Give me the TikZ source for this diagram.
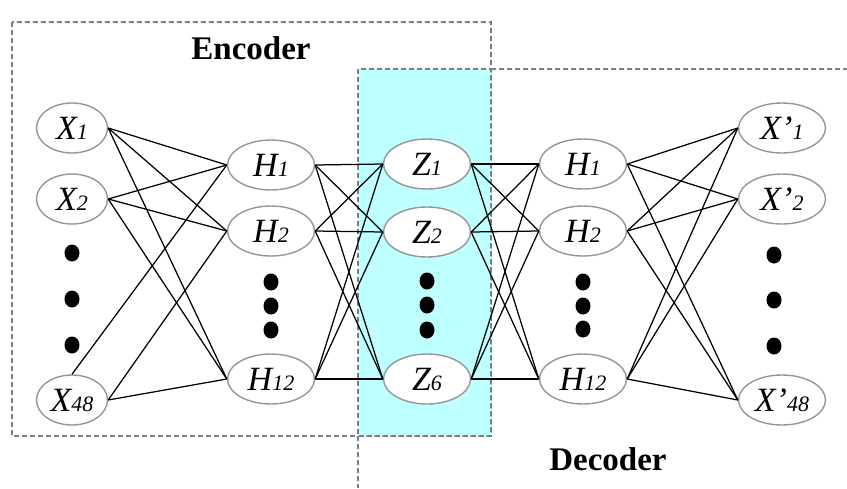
\documentclass[tikz,border=0pt]{standalone}
\usepackage{fontspec}
\setmainfont{Liberation Serif}
\usetikzlibrary{shapes.geometric}
\definecolor{boxgray}{RGB}{125,125,125}
\definecolor{ringgray}{RGB}{150,150,150}
\definecolor{latentcyan}{RGB}{190,255,255}
% unit label: italic letter with a smaller italic index on the baseline
\newcommand{\unitlbl}[2]{{\fontsize{34}{34}\selectfont\itshape #1}{\fontsize{22}{22}\selectfont\itshape #2}}

\begin{document}
\begin{tikzpicture}[x=1pt,y=-1pt,
  unit/.style={ellipse, draw=ringgray, line width=1.4pt, fill=white, minimum height=50pt, inner sep=0pt},
  inunit/.style={unit, minimum width=71pt},
  wideunit/.style={unit, minimum width=87pt},
  region/.style={draw=boxgray, line width=1.1pt, dash pattern=on 5pt off 3pt},
  link/.style={black, line width=1.25pt},
  ellipsis/.style={ellipse, fill=black, minimum width=15pt, minimum height=17pt, inner sep=0pt},
  title/.style={font=\fontsize{33}{33}\selectfont\bfseries, inner sep=0pt}
]
\useasboundingbox (0,0) rectangle (847,488);

% encoder region, latent band and decoder region
\draw[region] (12,22) rectangle (491,436);
\fill[latentcyan] (358,69) rectangle (491,436);
\draw[region] (358,69) rectangle (491,436);
\coordinate (dtopl) at (491,69);
\coordinate (dtopr) at (847,69);
\coordinate (dlefttop) at (358,436);
\coordinate (dleftbot) at (358,488);
\draw[region] (dtopl) -- (dtopr);
\draw[region] (dlefttop) -- (dleftbot);

\node[title] (enc) at (251,48) {Encoder};
\node[title] (dec) at (608,459) {Decoder};

% input layer
\node[inunit] (x1)  at (72,128) {\unitlbl{X}{1}};
\node[inunit] (x2)  at (72,199) {\unitlbl{X}{2}};
\node[inunit] (x48) at (72,400) {\unitlbl{X}{48}};
\node[ellipsis] (xd1) at (72,253) {};
\node[ellipsis] (xd2) at (72,299) {};
\node[ellipsis] (xd3) at (72,345) {};

% encoder hidden layer
\node[wideunit] (h1)  at (271,165) {\unitlbl{H}{1}};
\node[wideunit] (h2)  at (271,231) {\unitlbl{H}{2}};
\node[wideunit] (h12) at (271,379) {\unitlbl{H}{12}};
\node[ellipsis] (hd1) at (271,282) {};
\node[ellipsis] (hd2) at (271,306) {};
\node[ellipsis] (hd3) at (271,330) {};

% latent layer
\node[wideunit] (z1) at (427,164) {\unitlbl{Z}{1}};
\node[wideunit] (z2) at (427,232) {\unitlbl{Z}{2}};
\node[wideunit] (z6) at (427,379) {\unitlbl{Z}{6}};
\node[ellipsis] (zd1) at (427,281) {};
\node[ellipsis] (zd2) at (427,305) {};
\node[ellipsis] (zd3) at (427,330) {};

% decoder hidden layer
\node[wideunit] (g1)  at (583,164) {\unitlbl{H}{1}};
\node[wideunit] (g2)  at (583,231) {\unitlbl{H}{2}};
\node[wideunit] (g12) at (583,379) {\unitlbl{H}{12}};
\node[ellipsis] (gd1) at (583,282) {};
\node[ellipsis] (gd2) at (583,306) {};
\node[ellipsis] (gd3) at (583,329) {};

% output layer
\node[wideunit] (y1)  at (782,128) {\unitlbl{X’}{1}};
\node[wideunit] (y2)  at (782,199) {\unitlbl{X’}{2}};
\node[wideunit] (y48) at (782,400) {\unitlbl{X’}{48}};
\node[ellipsis] (yd1) at (774,255) {};
\node[ellipsis] (yd2) at (774,300) {};
\node[ellipsis] (yd3) at (774,346) {};

% fully connected links
\foreach \a in {x1,x2} \foreach \b in {h1,h2,h12} \draw[link] (\a.east) -- (\b.west);
\draw[link] (x48.north) -- (h1.west);
\draw[link] (x48.east) -- (h2.west);
\draw[link] (x48.east) -- (h12.west);
\foreach \a in {h1,h2,h12} \foreach \b in {z1,z2,z6} \draw[link] (\a.east) -- (\b.west);
\foreach \a in {z1,z2,z6} \foreach \b in {g1,g2,g12} \draw[link] (\a.east) -- (\b.west);
\foreach \a in {g1,g2,g12} \foreach \b in {y1,y2,y48} \draw[link] (\a.east) -- (\b.west);
\end{tikzpicture}
\end{document}
